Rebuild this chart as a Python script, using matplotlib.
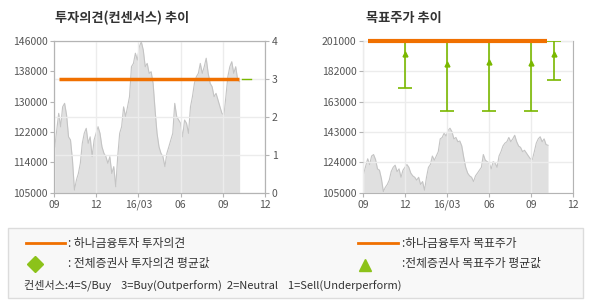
import numpy as np
import pandas as pd
import matplotlib
matplotlib.use('Agg')
import matplotlib.pyplot as plt
from matplotlib.patches import Rectangle
from matplotlib.lines import Line2D

plt.rcParams['font.family'] = ['Noto Sans CJK KR', 'DejaVu Sans']

# stock price
price = [117400, 121900, 126450, 122800, 128200, 129150, 126000, 120100, 119250, 113850,
         105700, 108400, 110200, 112950, 118350, 121050, 122400, 118350, 120100, 114750,
         119250, 121050, 122850, 121050, 117400, 115650, 114750, 112950, 114750, 110200,
         112050, 106600, 114750, 121050, 122850, 128200, 125550, 128200, 130950, 139050,
         139950, 142700, 140850, 144450, 145800, 143550, 139050, 139950, 137250, 137700,
         134550, 127350, 121050, 117400, 115650, 114750, 112050, 115650, 117400, 119250,
         121050, 129150, 125550, 124650, 123750, 120100, 124650, 123750, 121050, 128200,
         130950, 134550, 136350, 137250, 139950, 137250, 139050, 141350, 137250, 134550,
         133650, 130950, 131850, 130050, 128200, 126450, 126000, 130950, 136350, 139050,
         140400, 137250, 139050, 135450, 135000]
dates = pd.date_range('2015-09-02', '2016-10-07', periods=len(price))

# investment opinion (consensus)
op_start, op_end, op_value = '2015-09-12', '2016-10-06', 3
avg_op_start, avg_op_end, avg_op_value = '2016-10-13', '2016-11-01', 3

# target price
tp_start, tp_end, tp_value = '2015-09-11', '2016-10-05', 201000
avg_dates = ['2015-12-01', '2016-03-01', '2016-06-01', '2016-09-01', '2016-10-20']
avg_mean = [193000, 186600, 187900, 187300, 193000]
avg_high = [201000, 201000, 201000, 201000, 201000]
avg_low = [171000, 156700, 156700, 156700, 176300]

tick_dates = ['2015-09-01', '2015-12-01', '2016-03-01', '2016-06-01', '2016-09-01', '2016-12-01']
tick_labels = ['09', '12', '16/03', '06', '09', '12']
left_ylabels = ['105000', '114000', '122000', '130000', '138000', '146000']
right_ylabels = ['105000', '124000', '143000', '163000', '182000', '201000']

orange = '#f07000'
green = '#7ab800'
grid_c = '#ececec'
spine_c = '#b4b4b4'
txt_c = '#555555'

fig = plt.figure(figsize=(5.9, 3.0), dpi=100)
fig.patch.set_facecolor('white')

td = pd.to_datetime(tick_dates)


def style(ax):
    for s in ax.spines.values():
        s.set_color(spine_c)
    ax.tick_params(colors=spine_c, labelcolor=txt_c, labelsize=7.5, length=3, pad=2)
    ax.set_xlim(td[0], td[-1])
    ax.set_xticks(td)
    ax.set_xticklabels(tick_labels)


# ---- left chart ----
ax = fig.add_axes([54.3 / 590, 1 - 192.7 / 300, 210.7 / 590, 151.7 / 300])
ax.fill_between(dates, price, 105000, color='#e0e0e0', lw=0)
ax.plot(dates, price, color='#c4c4c4', lw=0.8)
ax.set_ylim(105000, 146000)
ax.set_yticks(np.linspace(105000, 146000, 6))
ax.set_yticklabels(left_ylabels)
style(ax)
ax.grid(axis='x', color=grid_c, lw=1)
ax.set_axisbelow(False)

ax2 = ax.twinx()
ax2.set_ylim(0, 4)
ax2.set_yticks([0, 1, 2, 3, 4])
style(ax2)
ax2.grid(axis='y', color=grid_c, lw=1)
ax2.plot(pd.to_datetime([op_start, op_end]), [op_value] * 2, color=orange, lw=2.5, solid_capstyle='butt')
ax2.plot(pd.to_datetime([avg_op_start, avg_op_end]), [avg_op_value] * 2, color=green, lw=1)
fig.text(55 / 590, 1 - 18 / 300, '투자의견(컨센서스) 추이', fontsize=9.5, fontweight='bold',
         color='#333333', va='center')

# ---- right chart ----
bx = fig.add_axes([363.3 / 590, 1 - 192.7 / 300, 210 / 590, 151.7 / 300])
bx.fill_between(dates, price, 105000, color='#e0e0e0', lw=0)
bx.plot(dates, price, color='#c4c4c4', lw=0.8)
bx.set_ylim(105000, 201000)
bx.set_yticks(np.linspace(105000, 201000, 6))
bx.set_yticklabels(right_ylabels)
style(bx)
bx.grid(color=grid_c, lw=1)
bx.set_axisbelow(False)
ad = pd.to_datetime(avg_dates)
mean = np.array(avg_mean)
bx.errorbar(ad, mean, yerr=[mean - np.array(avg_low), np.array(avg_high) - mean], fmt='none',
            ecolor=green, elinewidth=1.2, capsize=5, capthick=1.2, zorder=3)
bx.plot(ad, mean, '^', color=green, ms=3.5, zorder=4)
bx.plot(pd.to_datetime([tp_start, tp_end]), [tp_value] * 2, color=orange, lw=3,
        solid_capstyle='butt', zorder=5, clip_on=False)
fig.text(366 / 590, 1 - 18 / 300, '목표주가 추이', fontsize=9.5, fontweight='bold',
         color='#333333', va='center')

# ---- legend box ----
lg = fig.add_axes([0, 0, 1, 1])
lg.set_xlim(0, 590)
lg.set_ylim(300, 0)
lg.axis('off')
lg.add_patch(Rectangle((8, 228), 575, 70, facecolor='#f8f8f8', edgecolor='#dcdcdc', lw=1))
lg.add_line(Line2D([26, 65], [243, 243], color=orange, lw=2))
lg.text(68, 243, ': 하나금융투자 투자의견', fontsize=8.5, color='#333333', va='center')
lg.plot(35, 263.5, 'D', color='#8cc21a', ms=8.5)
lg.text(68, 263.5, ': 전체증권사 투자의견 평균값', fontsize=8.5, color='#333333', va='center')
lg.add_line(Line2D([358, 398], [243, 243], color=orange, lw=2))
lg.text(402, 243, ':하나금융투자 목표주가', fontsize=8.5, color='#333333', va='center')
lg.plot(365, 264.5, '^', color='#8cc21a', ms=8.5)
lg.text(402, 263.5, ':전체증권사 목표주가 평균값', fontsize=8.5, color='#333333', va='center')
lg.text(24, 285, '컨센서스:4=S/Buy    3=Buy(Outperform)  2=Neutral    1=Sell(Underperform)',
        fontsize=8, color='#333333', va='center')

fig.savefig('out.png', dpi=100)
